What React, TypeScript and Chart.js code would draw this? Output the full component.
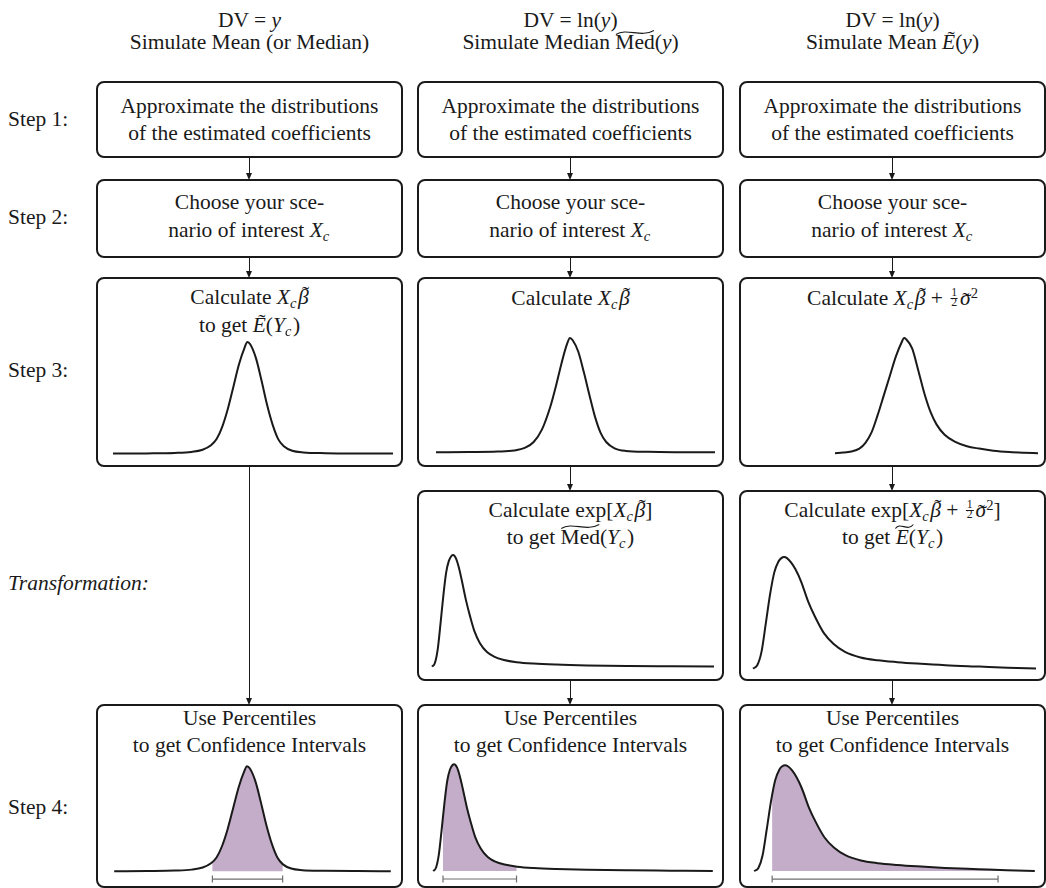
import React, { useEffect, useRef } from "react";
import { Chart, registerables } from "chart.js";

Chart.register(...registerables);

// ---------------- data ----------------
// Simulated E(Y_c) for DV = y (roughly normal); also reused in Step 4, column 1
const meanYX = [0, 12, 22, 28, 32, 35, 37, 39, 41, 43, 45, 47, 48, 49, 51, 53, 55, 57, 59, 61, 64, 68, 76, 88, 100];
const meanYDensity = [0, 0.002, 0.006, 0.015, 0.035, 0.075, 0.13, 0.24, 0.4, 0.6, 0.8, 0.95, 1, 0.98, 0.86, 0.66, 0.44, 0.26, 0.13, 0.065, 0.025, 0.01, 0.004, 0.001, 0];

// Simulated X_c beta (DV = ln y), column 2, step 3
const lnXbX = [0, 12, 22, 28, 32, 35, 38, 41, 43, 45, 47, 48, 49, 51, 53, 55, 57, 59, 61, 64, 68, 76, 88, 100];
const lnXbDensity = [0, 0.002, 0.006, 0.015, 0.04, 0.09, 0.2, 0.4, 0.58, 0.78, 0.95, 1, 0.98, 0.88, 0.7, 0.5, 0.31, 0.17, 0.09, 0.035, 0.012, 0.004, 0.001, 0];

// Simulated X_c beta + sigma^2/2 (DV = ln y), column 3, step 3
const lnMeanX = [0, 4, 8, 12, 15, 18, 21, 24, 27, 30, 33, 34, 35, 38, 41, 44, 47, 50, 54, 59, 65, 71, 78, 86, 93, 100];
const lnMeanDensity = [0, 0.005, 0.015, 0.04, 0.09, 0.18, 0.33, 0.5, 0.67, 0.84, 0.97, 1, 0.99, 0.91, 0.72, 0.52, 0.36, 0.25, 0.16, 0.1, 0.06, 0.04, 0.022, 0.01, 0.004, 0];

// exp[X_c beta] -> simulated median (column 2, transformation and step 4)
const medX = [0, 1, 2, 3, 4, 5, 6, 7, 7.5, 8.5, 9.5, 10.5, 12, 13.5, 15, 17, 19.5, 22, 25.5, 30, 36, 44, 55, 70, 85, 100];
const medDensity = [0, 0.03, 0.15, 0.38, 0.63, 0.84, 0.95, 0.995, 1, 0.97, 0.89, 0.78, 0.6, 0.45, 0.32, 0.21, 0.13, 0.09, 0.06, 0.04, 0.027, 0.018, 0.011, 0.006, 0.003, 0];

// exp[X_c beta + sigma^2/2] -> simulated mean (column 3, transformation and step 4)
const expMeanX = [0, 1.5, 3, 4.5, 6, 7.5, 9, 10, 11, 12, 13.5, 15, 17, 19.5, 22, 25, 28.5, 32.5, 38, 44, 51, 58, 68, 80, 90, 100];
const expMeanDensity = [0, 0.03, 0.15, 0.4, 0.66, 0.86, 0.96, 0.99, 1, 0.99, 0.95, 0.89, 0.78, 0.6, 0.46, 0.32, 0.22, 0.15, 0.1, 0.075, 0.058, 0.045, 0.03, 0.018, 0.008, 0];

// Percentile confidence intervals (in each curve's own x units), columns 1..3
const ciLow = [35.5, 3.5, 6.4];
const ciHigh = [60.9, 29.8, 86.9];
const ciBarLevel = -0.075;

// ---------------- styling / layout ----------------
const INK = "#1a1a1a";
const PURPLE = "#c4adc9";
const FS = 21.5;
const FONT = '"Liberation Serif", "Times New Roman", serif';

const COL_X: [number, number][] = [[97, 402], [418, 723], [740, 1045]];
const COL_C = COL_X.map(([a, b]) => (a + b) / 2);
const ROW_Y: Record<string, [number, number]> = {
  s1: [82, 157],
  s2: [180, 257],
  s3: [278, 466],
  tr: [491, 680],
  s4: [705, 887],
};

type Panel = {
  id: string;
  xs: number[];
  ys: number[];
  x0: number;
  x1: number;
  base: number;
  peak: number;
  ci?: [number, number];
};

const panels: Panel[] = [
  { id: "s3c1", xs: meanYX, ys: meanYDensity, x0: 113, x1: 393, base: 454, peak: 342 },
  { id: "s3c2", xs: lnXbX, ys: lnXbDensity, x0: 436, x1: 715, base: 452, peak: 338 },
  { id: "s3c3", xs: lnMeanX, ys: lnMeanDensity, x0: 835, x1: 1038, base: 453, peak: 338 },
  { id: "trc2", xs: medX, ys: medDensity, x0: 432, x1: 714, base: 667, peak: 555 },
  { id: "trc3", xs: expMeanX, ys: expMeanDensity, x0: 753, x1: 1036, base: 669, peak: 557 },
  { id: "s4c1", xs: meanYX, ys: meanYDensity, x0: 113, x1: 392, base: 872, peak: 765, ci: [ciLow[0], ciHigh[0]] },
  { id: "s4c2", xs: medX, ys: medDensity, x0: 432, x1: 714, base: 872, peak: 763, ci: [ciLow[1], ciHigh[1]] },
  { id: "s4c3", xs: expMeanX, ys: expMeanDensity, x0: 753, x1: 1036, base: 872, peak: 764, ci: [ciLow[2], ciHigh[2]] },
];

const YMIN = -0.12;
const YMAX = 1;
const PAD = 4;

function DensityChart({ panel }: { panel: Panel }) {
  const ref = useRef<HTMLCanvasElement | null>(null);
  const unit = panel.base - panel.peak;
  const width = panel.x1 - panel.x0 + 2 * PAD;
  const height = Math.round(unit * (YMAX - YMIN) + 2 * PAD);

  useEffect(() => {
    const canvas = ref.current;
    if (!canvas) return;
    const pts = panel.xs.map((x, i) => ({ x, y: panel.ys[i] }));
    const datasets: any[] = [
      {
        data: pts,
        borderColor: INK,
        borderWidth: 2,
        pointRadius: 0,
        cubicInterpolationMode: "monotone",
        fill: false,
        clip: false,
      },
    ];
    if (panel.ci) {
      datasets.push({
        data: [
          { x: panel.ci[0], y: ciBarLevel },
          { x: panel.ci[1], y: ciBarLevel },
        ],
        borderColor: "#6e6e6e",
        borderWidth: 1.2,
        pointStyle: "line",
        rotation: 90,
        pointRadius: 3.5,
        pointBorderColor: "#6e6e6e",
        pointBorderWidth: 1.2,
        fill: false,
        clip: false,
      });
      datasets.push({
        data: pts,
        borderColor: "transparent",
        borderWidth: 0,
        pointRadius: 0,
        cubicInterpolationMode: "monotone",
        fill: "origin",
        backgroundColor: PURPLE,
        clip: false,
      });
    }
    const ciClip = {
      id: "ciClip",
      beforeDatasetsDraw(chart: any) {
        if (!panel.ci) return;
        const xs = chart.scales.x;
        const l = xs.getPixelForValue(panel.ci[0]);
        const r = xs.getPixelForValue(panel.ci[1]);
        const ctx = chart.ctx;
        ctx.save();
        ctx.beginPath();
        ctx.rect(l, 0, r - l, chart.height);
        ctx.clip();
      },
      afterDatasetDraw(chart: any, args: any) {
        if (panel.ci && args.index === 2) chart.ctx.restore();
      },
    };
    const chart = new Chart(canvas, {
      type: "line",
      data: { datasets },
      options: {
        animation: false,
        responsive: false,
        events: [],
        layout: { padding: PAD },
        scales: {
          x: { type: "linear", min: 0, max: 100, display: false },
          y: { type: "linear", min: YMIN, max: YMAX, display: false },
        },
        plugins: { legend: { display: false }, tooltip: { enabled: false } },
      },
      plugins: [ciClip],
    } as any);
    return () => chart.destroy();
  }, []);

  return (
    <canvas
      ref={ref}
      width={width}
      height={height}
      style={{ position: "absolute", left: panel.x0 - PAD, top: panel.peak - PAD, width, height }}
    />
  );
}

// ---------------- text helpers ----------------
const I = ({ children }: any) => <i>{children}</i>;
const Sub = ({ children }: any) => (
  <i style={{ fontSize: "0.68em", position: "relative", top: "0.28em", marginRight: 1.5 }}>{children}</i>
);
const Sup = ({ children }: any) => (
  <span style={{ fontSize: "0.68em", position: "relative", top: "-0.48em" }}>{children}</span>
);
const Tl = ({ children, lift = 0.15, dx = 0.08 }: any) => (
  <span style={{ position: "relative", display: "inline-block" }}>
    {children}
    <span
      style={{
        position: "absolute",
        left: "50%",
        top: `${-lift * FS}px`,
        transform: `translateX(calc(-50% + ${dx * FS}px))`,
        fontStyle: "normal",
      }}
    >
      ˜
    </span>
  </span>
);
const WideTilde = ({ children, w, top = -4, dx = 0 }: any) => (
  <span style={{ position: "relative", display: "inline-block" }}>
    {children}
    <svg
      width={w}
      height={7}
      viewBox={`0 0 ${w} 7`}
      style={{ position: "absolute", left: "50%", marginLeft: -w / 2 + dx, top }}
    >
      <path d={`M1 5.5 C ${w * 0.3} -1.5, ${w * 0.65} 9, ${w - 1} 1.5`} stroke={INK} strokeWidth={1.1} fill="none" />
    </svg>
  </span>
);
const Half = () => (
  <span style={{ position: "relative", display: "inline-block", width: 0.45 * FS, height: 0.7 * FS, margin: "0 1px" }}>
    <span style={{ position: "absolute", left: 0, right: 0, textAlign: "center", fontSize: 0.55 * FS, lineHeight: 1, top: -0.12 * FS }}>1</span>
    <span style={{ position: "absolute", left: 1, right: 1, top: 0.37 * FS, height: 1, background: INK }} />
    <span style={{ position: "absolute", left: 0, right: 0, textAlign: "center", fontSize: 0.55 * FS, lineHeight: 1, top: 0.34 * FS }}>2</span>
  </span>
);
const Xc = () => (
  <>
    <I>X</I>
    <Sub>c</Sub>
  </>
);
const Beta = () => (
  <Tl lift={0.14} dx={0.1}>
    <I>β</I>
  </Tl>
);
const Sigma2 = () => (
  <>
    <Tl lift={-0.08} dx={0.02}>
      <I>σ</I>
    </Tl>
    <Sup>2</Sup>
  </>
);

function Txt({ x, y, children, align = "center", italic = false }: any) {
  return (
    <div
      style={{
        position: "absolute",
        left: x,
        top: y - 0.8375 * FS,
        transform: align === "center" ? "translateX(-50%)" : undefined,
        whiteSpace: "nowrap",
        fontStyle: italic ? "italic" : "normal",
        lineHeight: `${FS}px`,
        fontSize: FS,
      }}
    >
      {children}
    </div>
  );
}

function Box({ x0, x1, y0, y1 }: any) {
  return (
    <div
      style={{
        position: "absolute",
        left: x0 - 1,
        top: y0 - 1,
        width: x1 - x0 + 2,
        height: y1 - y0 + 2,
        border: `2px solid ${INK}`,
        borderRadius: 8,
        boxSizing: "border-box",
      }}
    />
  );
}

function Arrow({ x, y0, y1 }: any) {
  return (
    <>
      <div style={{ position: "absolute", left: x - 0.6, top: y0, width: 1.2, height: y1 - y0 - 5, background: INK }} />
      <div
        style={{
          position: "absolute",
          left: x - 3.5,
          top: y1 - 7,
          width: 0,
          height: 0,
          borderLeft: "3.5px solid transparent",
          borderRight: "3.5px solid transparent",
          borderTop: `7px solid ${INK}`,
        }}
      />
    </>
  );
}

export default function App() {
  const boxes: any[] = [];
  COL_X.forEach(([x0, x1], c) => {
    ["s1", "s2", "s3", "tr", "s4"].forEach((r) => {
      if (r === "tr" && c === 0) return;
      boxes.push(<Box key={`${r}${c}`} x0={x0} x1={x1} y0={ROW_Y[r][0]} y1={ROW_Y[r][1]} />);
    });
  });

  const arrows: any[] = [];
  COL_C.forEach((x, c) => {
    arrows.push(<Arrow key={`a1${c}`} x={x} y0={ROW_Y.s1[1]} y1={ROW_Y.s2[0]} />);
    arrows.push(<Arrow key={`a2${c}`} x={x} y0={ROW_Y.s2[1]} y1={ROW_Y.s3[0]} />);
    if (c === 0) {
      arrows.push(<Arrow key={`a3${c}`} x={x} y0={ROW_Y.s3[1]} y1={ROW_Y.s4[0]} />);
    } else {
      arrows.push(<Arrow key={`a3${c}`} x={x} y0={ROW_Y.s3[1]} y1={ROW_Y.tr[0]} />);
      arrows.push(<Arrow key={`a4${c}`} x={x} y0={ROW_Y.tr[1]} y1={ROW_Y.s4[0]} />);
    }
  });

  const [c1, c2, c3] = COL_C;

  return (
    <div
      style={{
        position: "absolute",
        left: 0,
        top: 0,
        width: 1046,
        height: 888,
        overflow: "hidden",
        background: "#fff",
        fontFamily: FONT,
        color: INK,
        fontSize: FS,
        lineHeight: `${FS}px`,
      }}
    >
      {boxes}
      {arrows}
      {panels.map((p) => (
        <DensityChart key={p.id} panel={p} />
      ))}

      {/* column headers */}
      <Txt x={c1} y={28}>DV = <I>y</I></Txt>
      <Txt x={c1} y={50}>Simulate Mean (or Median)</Txt>
      <Txt x={c2} y={28}>DV = ln(<I>y</I>)</Txt>
      <Txt x={c2} y={50}>
        Simulate Median <WideTilde w={40} top={-3}>Med</WideTilde>(<I>y</I>)
      </Txt>
      <Txt x={c3} y={28}>DV = ln(<I>y</I>)</Txt>
      <Txt x={c3} y={50}>
        Simulate Mean <Tl lift={0.16} dx={0.12}><I>E</I></Tl>(<I>y</I>)
      </Txt>

      {/* step labels */}
      <Txt x={8} y={127} align="left">Step 1:</Txt>
      <Txt x={8} y={225} align="left">Step 2:</Txt>
      <Txt x={8} y={378} align="left">Step 3:</Txt>
      <Txt x={8} y={591} align="left" italic>Transformation:</Txt>
      <Txt x={8} y={815} align="left">Step 4:</Txt>

      {/* step 1 */}
      {COL_C.map((x, c) => (
        <React.Fragment key={`s1t${c}`}>
          <Txt x={x} y={114}>Approximate the distributions</Txt>
          <Txt x={x} y={141}>of the estimated coefficients</Txt>
        </React.Fragment>
      ))}

      {/* step 2 */}
      {COL_C.map((x, c) => (
        <React.Fragment key={`s2t${c}`}>
          <Txt x={x} y={210}>Choose your sce-</Txt>
          <Txt x={x} y={238}>nario of interest <Xc /></Txt>
        </React.Fragment>
      ))}

      {/* step 3 */}
      <Txt x={c1} y={305}>Calculate <Xc /><Beta /></Txt>
      <Txt x={c1} y={333}>
        to get <Tl lift={0.16} dx={0.12}><I>E</I></Tl>(<I>Y</I><Sub>c</Sub>)
      </Txt>
      <Txt x={c2} y={306}>Calculate <Xc /><Beta /></Txt>
      <Txt x={c3} y={306}>
        Calculate <Xc /><Beta /> + <Half /><Sigma2 />
      </Txt>

      {/* transformation */}
      <Txt x={c2} y={518}>Calculate exp[<Xc /><Beta />]</Txt>
      <Txt x={c2} y={545}>
        to get <WideTilde w={40} top={-4}>Med</WideTilde>(<I>Y</I><Sub>c</Sub>)
      </Txt>
      <Txt x={c3} y={518}>
        Calculate exp[<Xc /><Beta /> + <Half /><Sigma2 />]
      </Txt>
      <Txt x={c3} y={545}>
        to get <WideTilde w={20} top={-4} dx={2}><I>E</I></WideTilde>(<I>Y</I><Sub>c</Sub>)
      </Txt>

      {/* step 4 */}
      {COL_C.map((x, c) => (
        <React.Fragment key={`s4t${c}`}>
          <Txt x={x} y={726}>Use Percentiles</Txt>
          <Txt x={x} y={753}>to get Confidence Intervals</Txt>
        </React.Fragment>
      ))}
    </div>
  );
}
